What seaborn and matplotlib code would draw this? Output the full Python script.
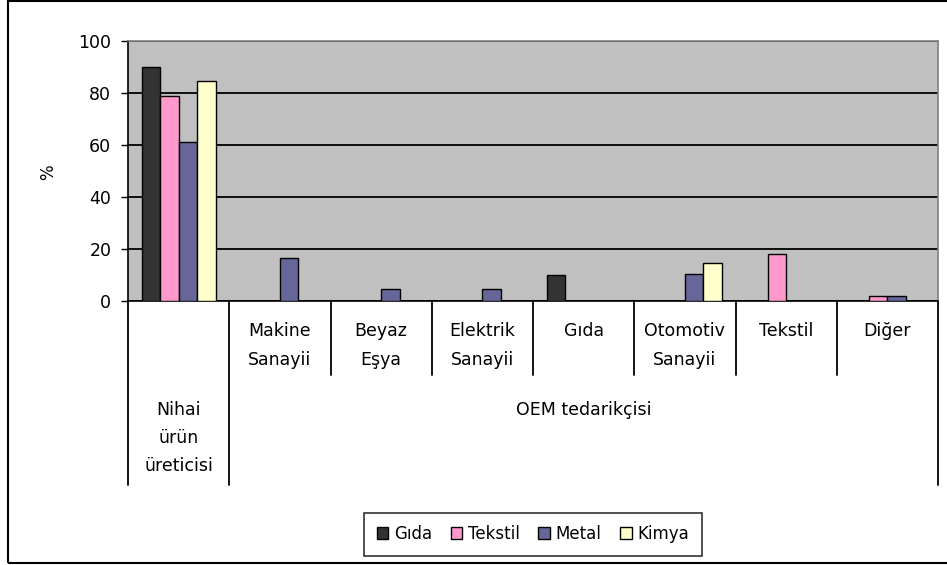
import numpy as np
import pandas as pd
import matplotlib
matplotlib.use("Agg")
import matplotlib.pyplot as plt
import matplotlib.transforms as mtransforms
from matplotlib.patches import Rectangle
import seaborn as sns

# Data
categories = ["Nihai\nürün\nüreticisi", "Makine\nSanayii", "Beyaz\nEşya", "Elektrik\nSanayii",
              "Gıda", "Otomotiv\nSanayii", "Tekstil", "Diğer"]
sub_labels = ["", "Makine\nSanayii", "Beyaz\nEşya", "Elektrik\nSanayii",
              "Gıda", "Otomotiv\nSanayii", "Tekstil", "Diğer"]
groups = ["Nihai\nürün\nüreticisi", "OEM tedarikçisi"]
group_spans = [(0, 1), (1, 8)]
series = ["Gıda", "Tekstil", "Metal", "Kimya"]
gida = [90, np.nan, np.nan, np.nan, 10, np.nan, np.nan, np.nan]
tekstil = [79, np.nan, np.nan, np.nan, np.nan, np.nan, 18, 2]
metal = [61, 16.5, 4.5, 4.5, np.nan, 10.5, np.nan, 2]
kimya = [84.5, np.nan, np.nan, np.nan, np.nan, 14.5, np.nan, np.nan]
colors = ["#333333", "#FF99CC", "#666699", "#FFFFCC"]

rows = []
for name, vals in zip(series, [gida, tekstil, metal, kimya]):
    for cat, v in zip(categories, vals):
        rows.append({"kategori": cat, "seri": name, "deger": v})
df = pd.DataFrame(rows).dropna()

sns.set_style("white")
plt.rcParams['font.family'] = ['DejaVu Sans']
plt.rcParams['text.color'] = 'black'
plt.rcParams['ytick.color'] = 'black'

fig = plt.figure(figsize=(9.47, 5.65), dpi=100)
ax = fig.add_axes([128 / 947, 1 - 301 / 565, 810 / 947, 260 / 565])
ax.set_facecolor("#C0C0C0")

sns.barplot(data=df, x="kategori", y="deger", hue="seri", order=categories,
            hue_order=series, palette=colors, saturation=1, width=0.73, errorbar=None,
            edgecolor="black", linewidth=1, ax=ax, legend=False, zorder=3)

ax.set_xlim(-0.5, len(categories) - 0.5)
ax.set_ylim(0, 100)
ax.set_yticks(range(0, 101, 20))
ax.grid(axis="y", color="black", linewidth=1.3, zorder=1)
ax.set_axisbelow(True)
ax.tick_params(axis="y", length=5, width=1, color="black", labelcolor="black",
               labelsize=12.5, pad=7, left=True)
ax.tick_params(axis="x", bottom=False, labelbottom=False)
ax.set_xlabel("")
ax.set_ylabel("")
for s in ["left", "bottom"]:
    ax.spines[s].set_color("black")
    ax.spines[s].set_linewidth(1.2)
for s in ["top", "right"]:
    ax.spines[s].set_color("#808080")
    ax.spines[s].set_linewidth(1.2)

fig.text(48 / 947, 1 - 172 / 565, "%", rotation=90, ha="center", va="center",
         fontsize=12, color="black")

# multi-level category axis
trans = mtransforms.blended_transform_factory(ax.transData, ax.transAxes)
def yfrac(py):
    return (301 - py) / 260

for k in range(len(categories) + 1):
    x = k - 0.5
    y_end = 485 if k in (0, 1, len(categories)) else 375
    ax.plot([x, x], [0, yfrac(y_end)], color="black", lw=1.3, transform=trans, clip_on=False)

for i, lab in enumerate(sub_labels):
    for j, line in enumerate(lab.split("\n")):
        if line:
            ax.text(i, yfrac(331 + 29 * j), line, transform=trans, ha="center", va="center",
                    fontsize=12.5, color="black", clip_on=False)

for lab, (a, b) in zip(groups, group_spans):
    xc = (a + b - 1) / 2
    for j, line in enumerate(lab.split("\n")):
        ax.text(xc, yfrac(410 + 28 * j), line, transform=trans, ha="center", va="center",
                fontsize=12.5, color="black", clip_on=False)

# legend
handles = [Rectangle((0, 0), 1, 1, facecolor=c, edgecolor="black", lw=1) for c in colors]
leg = fig.legend(handles, series, loc="center", bbox_to_anchor=(533 / 947, 1 - 534 / 565),
                 ncol=4, fontsize=12, frameon=True, fancybox=False, handlelength=0.7,
                 handleheight=0.7, handletextpad=0.35, columnspacing=1.1, borderpad=0.75,
                 borderaxespad=0)
leg.get_frame().set_edgecolor("black")
leg.get_frame().set_linewidth(1.2)

# outer chart border
fig.patches.append(Rectangle((8 / 947, 2 / 565), 1.0, 562 / 565, transform=fig.transFigure,
                             fill=False, edgecolor="black", lw=1.5, clip_on=False))

fig.savefig("out.png", dpi=100)
